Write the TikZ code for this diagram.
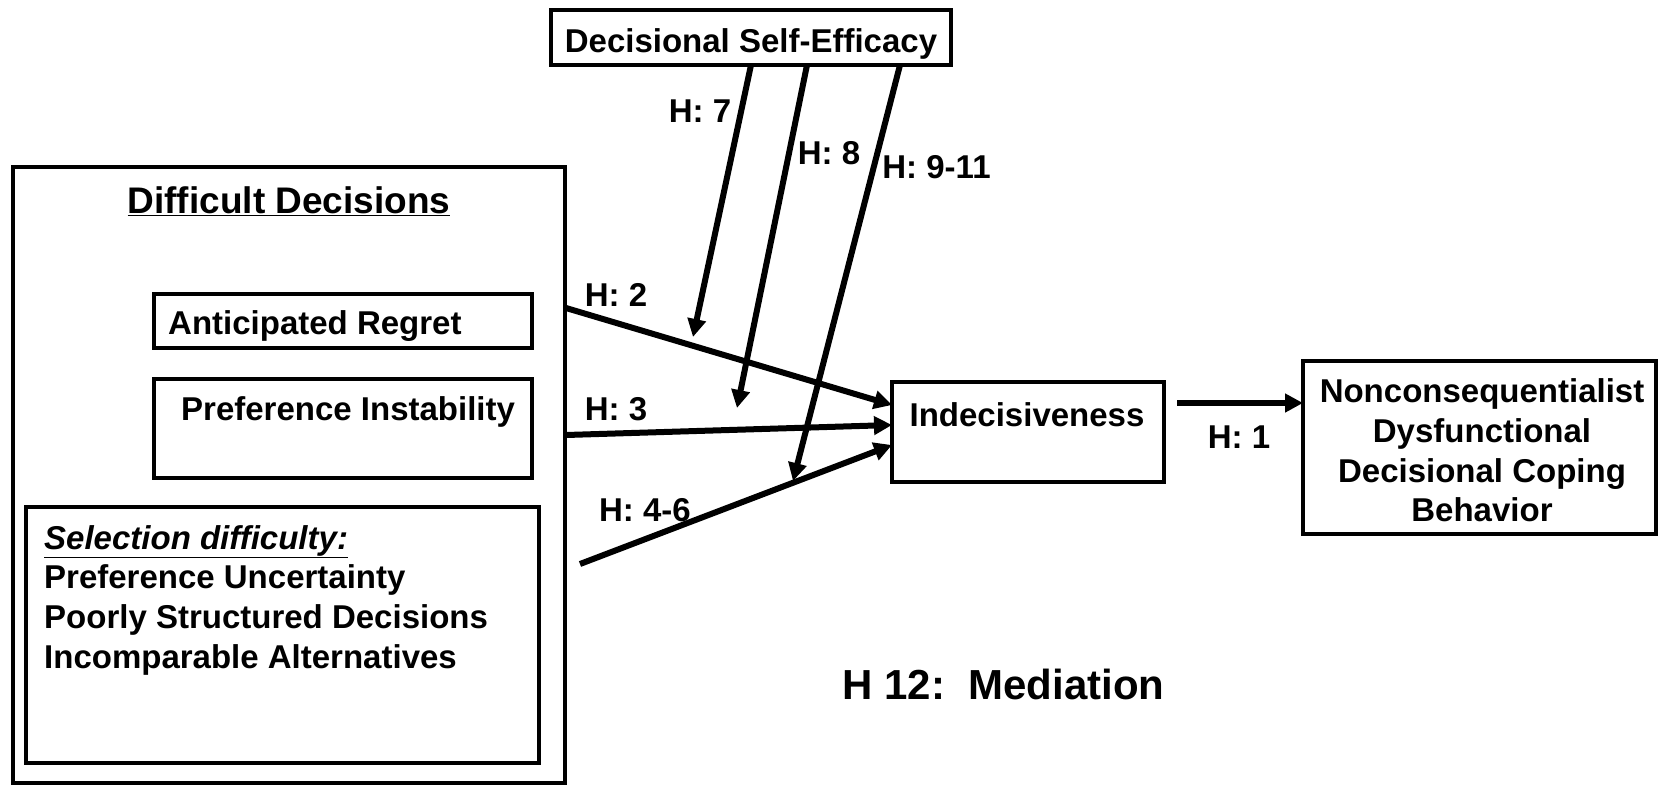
\documentclass[tikz,border=0pt]{standalone}
\usepackage{fontspec}
\setmainfont{Liberation Sans}
\usetikzlibrary{arrows.meta,calc}

\begin{document}
\begin{tikzpicture}[x=1pt,y=-1pt,
  box/.style={draw, line width=4pt, outer sep=0pt, inner sep=0pt, anchor=north west},
  txt/.style={inner sep=0pt, font=\fontsize{33}{39.7}\selectfont\bfseries},
  hyp/.style={txt, anchor=base},
  link/.style={line width=6pt, -{Triangle[length=18pt,width=18pt]}},
]
\useasboundingbox (0,0) rectangle (1659,785);

% outer frame with its three kinds of difficult decisions
\node[box, minimum width=552pt, minimum height=616pt] (dd) at (13,167) {};
\node[txt, anchor=base, font=\fontsize{37}{44}\selectfont\bfseries] (ddTitle) at (289,213) {\underline{Difficult Decisions}};

\node[box, minimum width=378pt, minimum height=54pt] (ar) at (154,294) {};
\node[txt, anchor=base west] (arText) at (168,334) {Anticipated Regret};

\node[box, minimum width=378pt, minimum height=99pt] (pi) at (154,379) {};
\node[txt, anchor=base west] (piText) at (181,420.5) {Preference Instability};

% multi-line nodes: the base anchor sits on the last line
\node[box, minimum width=513pt, minimum height=256pt] (sel) at (26,507) {};
\node[txt, anchor=base west, align=left] (selText) at (44,668.1)
  {\underline{\textit{Selection difficulty:}}\\
   Preference Uncertainty\\
   Poorly Structured Decisions\\
   Incomparable Alternatives};

% moderator, mediator and outcome
\node[box, minimum width=400pt, minimum height=55pt] (dse) at (551,10) {};
\node[hyp] (dseText) at (751,52) {Decisional Self-Efficacy};

\node[box, minimum width=272pt, minimum height=100pt] (ind) at (892,382) {};
\node[hyp] (indText) at (1027,426) {Indecisiveness};

\node[box, minimum width=353pt, minimum height=173pt] (ncb) at (1303,361) {};
\node[txt, anchor=base, align=center] (ncbText) at (1482,521.8)
  {Nonconsequentialist\\ Dysfunctional\\ Decisional Coping\\ Behavior};

% direct paths into indecisiveness
\coordinate (h2s) at (566,308);
\coordinate (h3s) at (566,435);
\coordinate (h4s) at (580,564);
\draw[link] (h2s) -- ($(ind.west)+(0,-27)$);
\draw[link] (h3s) -- ($(ind.west)+(0,-7)$);
\draw[link] (h4s) -- ($(ind.west)+(0,13)$);

% moderating paths from self-efficacy
\coordinate (t7) at (693,337);
\coordinate (t8) at (737,408);
\coordinate (t9) at (793,481);
\draw[link] ($(dse.south west)+(200,0)$) -- (t7);
\draw[link] ($(dse.south west)+(256,0)$) -- (t8);
\draw[link] ($(dse.south west)+(349,0)$) -- (t9);

% outcome path
\coordinate (h1s) at (1177,403);
\draw[link] (h1s) -- (h1s -| ncb.west);

% hypothesis labels
\node[hyp] (lab7) at (700,122) {H: 7};
\node[hyp] (lab8) at (829,164) {H: 8};
\node[hyp] (lab9) at (936.5,178) {H: 9-11};
\node[hyp] (lab2) at (616,306) {H: 2};
\node[hyp] (lab3) at (616,420) {H: 3};
\node[hyp] (lab4) at (645,521) {H: 4-6};
\node[hyp] (lab1) at (1239,448) {H: 1};
\node[hyp, font=\fontsize{42}{50}\selectfont\bfseries] (lab12) at (1003.5,699) {H 12:\ \ Mediation};
\end{tikzpicture}
\end{document}
